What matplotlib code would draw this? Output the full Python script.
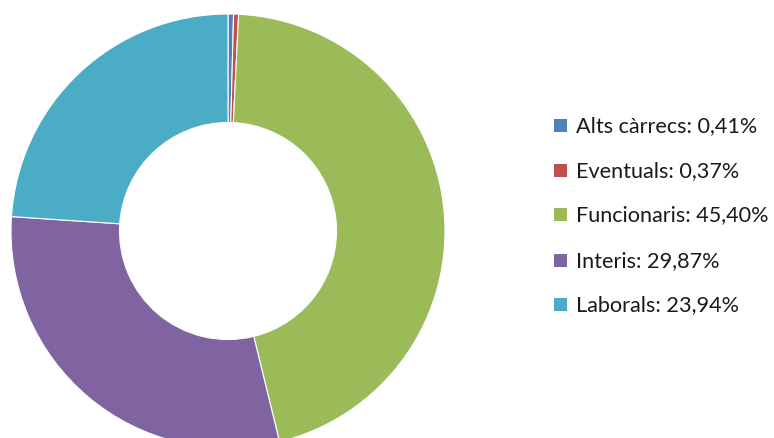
import matplotlib.pyplot as plt
from matplotlib.patches import Rectangle

# dades
categories = ['Alts càrrecs', 'Eventuals', 'Funcionaris', 'Interis', 'Laborals']
values = [0.41, 0.37, 45.40, 29.87, 23.94]
labels = ['Alts càrrecs: 0,41%', 'Eventuals: 0,37%', 'Funcionaris: 45,40%',
          'Interis: 29,87%', 'Laborals: 23,94%']
colors = ['#4F81BD', '#C0504D', '#9BBB59', '#8064A2', '#4BACC6']

W, H = 774, 439
fig = plt.figure(figsize=(W / 100, H / 100), dpi=100)

# donut: centre (228, 232) px, radi 217 px
cx, cy, r = 228, 232, 217
ax = fig.add_axes([(cx - r) / W, (H - cy - r) / H, 2 * r / W, 2 * r / H])
ax.pie(values, colors=colors, startangle=90, counterclock=False, radius=1,
       wedgeprops=dict(width=0.5, edgecolor='white', linewidth=0.8))
ax.set_xlim(-1, 1)
ax.set_ylim(-1, 1)
ax.set_aspect('equal')
ax.axis('off')

# llegenda
rows_y = [126, 171, 215, 261, 305]
for lab, col, y in zip(labels, colors, rows_y):
    fig.patches.append(Rectangle((554 / W, (H - y - 6.5) / H), 13 / W, 13 / H,
                                 transform=fig.transFigure, facecolor=col,
                                 edgecolor='none'))
    fig.text(576 / W, (H - y) / H, lab, fontsize=15.6, family=['Lato', 'DejaVu Sans'],
             va='center', ha='left', color='#1a1a1a')

fig.savefig('out.png', dpi=100)
